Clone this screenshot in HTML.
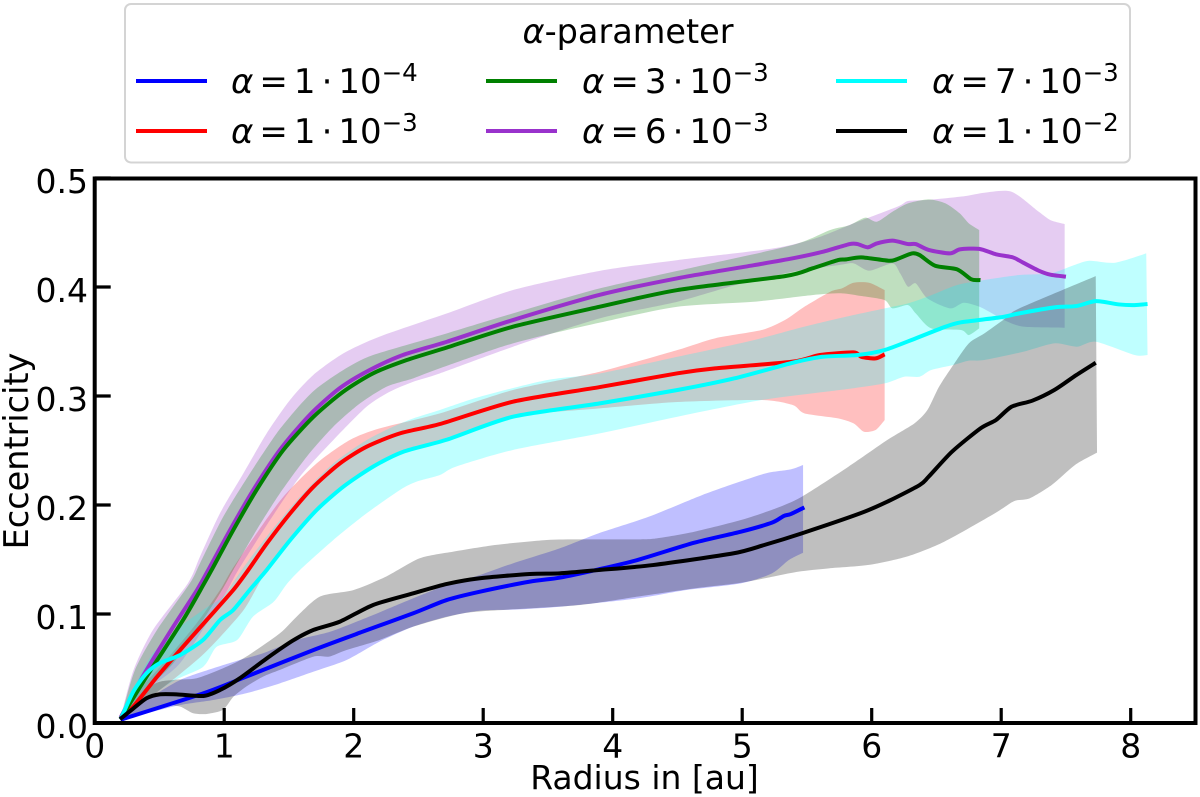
<!DOCTYPE html>
<html>
<head>
<meta charset="utf-8">
<title>Eccentricity vs radius</title>
<style>
html,body{margin:0;padding:0;background:#fff;}
svg{display:block;}
text{font-family:"DejaVu Sans","Liberation Sans",sans-serif;fill:#000;}
</style>
</head>
<body>
<svg id="chart" xmlns="http://www.w3.org/2000/svg" width="1200" height="797" viewBox="0 0 1200 797">
<rect x="125" y="4" width="1005" height="158.500" rx="6" fill="#fff" stroke="#d4d4d4" stroke-width="2"/>
<text x="628" y="43" font-size="33.500" text-anchor="middle"><tspan font-style="italic">α</tspan>-parameter</text>
<g><line x1="136" x2="207" y1="81" y2="81" stroke="#0000ff" stroke-width="4"/><text x="231" y="93" font-size="34"><tspan font-style="italic">α</tspan><tspan dx="6">=</tspan><tspan dx="6">1</tspan><tspan dx="6">·</tspan><tspan dx="6">10</tspan><tspan font-size="24.500" dy="-12">−4</tspan></text></g>
<g><line x1="136" x2="207" y1="131" y2="131" stroke="#ff0000" stroke-width="4"/><text x="231" y="143" font-size="34"><tspan font-style="italic">α</tspan><tspan dx="6">=</tspan><tspan dx="6">1</tspan><tspan dx="6">·</tspan><tspan dx="6">10</tspan><tspan font-size="24.500" dy="-12">−3</tspan></text></g>
<g><line x1="486" x2="557" y1="81" y2="81" stroke="#008000" stroke-width="4"/><text x="582" y="93" font-size="34"><tspan font-style="italic">α</tspan><tspan dx="6">=</tspan><tspan dx="6">3</tspan><tspan dx="6">·</tspan><tspan dx="6">10</tspan><tspan font-size="24.500" dy="-12">−3</tspan></text></g>
<g><line x1="486" x2="557" y1="131" y2="131" stroke="#9932cc" stroke-width="4"/><text x="582" y="143" font-size="34"><tspan font-style="italic">α</tspan><tspan dx="6">=</tspan><tspan dx="6">6</tspan><tspan dx="6">·</tspan><tspan dx="6">10</tspan><tspan font-size="24.500" dy="-12">−3</tspan></text></g>
<g><line x1="836" x2="907" y1="81" y2="81" stroke="#00ffff" stroke-width="4"/><text x="932" y="93" font-size="34"><tspan font-style="italic">α</tspan><tspan dx="6">=</tspan><tspan dx="6">7</tspan><tspan dx="6">·</tspan><tspan dx="6">10</tspan><tspan font-size="24.500" dy="-12">−3</tspan></text></g>
<g><line x1="836" x2="907" y1="131" y2="131" stroke="#000000" stroke-width="4"/><text x="932" y="143" font-size="34"><tspan font-style="italic">α</tspan><tspan dx="6">=</tspan><tspan dx="6">1</tspan><tspan dx="6">·</tspan><tspan dx="6">10</tspan><tspan font-size="24.500" dy="-12">−2</tspan></text></g>
<g id="bands"></g>
<g id="lines"></g>
<g id="axes"></g>
<text x="644.500" y="789" font-size="33" text-anchor="middle">Radius in [au]</text>
<text transform="translate(28,451) rotate(-90)" font-size="33.500" text-anchor="middle">Eccentricity</text>
</svg>
<script>
const xTickValues = [0,1,2,3,4,5,6,7,8];
const xTickLabels = ["0","1","2","3","4","5","6","7","8"];
const yTickValues = [0,0.1,0.2,0.3,0.4,0.5];
const yTickLabels = ["0.0","0.1","0.2","0.3","0.4","0.5"];

const blueMeanR = [0.2,0.84,1.17,1.69,2.07,2.46,2.72,2.975,3.36,3.59,3.89,4.19,4.63,4.99,5.23,5.32,5.375,5.48];
const blueMeanE = [0.003,0.0273,0.0425,0.067,0.0838,0.1007,0.1129,0.1205,0.1297,0.1333,0.1409,0.1495,0.1654,0.1755,0.1838,0.1899,0.1917,0.1978];
const blueUpperR = [0.2,0.4,0.66,0.916,1.12,1.3,1.56,1.82,2.15,2.46,2.72,2.975,3.23,3.59,3.89,4.28,4.69,5.02,5.2,5.375,5.47];
const blueUpperE = [0.003,0.0211,0.0395,0.0502,0.0578,0.064,0.0762,0.0838,0.0991,0.1144,0.1266,0.1358,0.1465,0.1602,0.174,0.1893,0.2091,0.2229,0.2296,0.2327,0.2367];
const blueLowerR = [0.2,0.4,0.66,0.916,1.17,1.43,1.69,1.945,2.2,2.46,2.72,2.975,3.23,3.59,4.19,4.57,4.99,5.23,5.36,5.47];
const blueLowerE = [0.003,0.0089,0.0165,0.0211,0.0273,0.0364,0.0471,0.0578,0.0747,0.0884,0.0976,0.1031,0.104,0.1067,0.1143,0.122,0.1281,0.1373,0.1495,0.1562];

const redMeanR = [0.2,0.295,0.48,0.66,0.865,1.07,1.186,1.33,1.51,1.69,1.894,2.1,2.357,2.666,3.23,3.9,4.5,4.79,5.39,5.6,5.86,5.92,6.03,6.1];
const redMeanE = [0.004,0.0147,0.0422,0.067,0.0945,0.122,0.1404,0.1648,0.1924,0.2168,0.2382,0.2535,0.2657,0.2743,0.2948,0.3082,0.3208,0.3253,0.3315,0.3376,0.34,0.336,0.3345,0.3382];
const redUpperR = [0.2,0.27,0.53,0.787,0.968,1.058,1.25,1.457,1.714,1.97,2.2,2.666,3.23,3.9,4.5,4.79,5.15,5.33,5.48,5.68,5.77,5.86,5.98,6.1];
const redUpperE = [0.004,0.021,0.0548,0.0915,0.122,0.1404,0.174,0.2076,0.2382,0.2596,0.2703,0.2841,0.3055,0.3223,0.3422,0.3529,0.3605,0.3697,0.3819,0.3957,0.3987,0.4039,0.4039,0.3972];
const redLowerR = [0.2,0.4,0.66,0.865,1.15,1.328,1.51,1.714,1.92,2.15,2.383,2.666,3.23,3.9,4.5,5.15,5.39,5.48,5.74,5.86,5.94,6.03,6.1];
const redLowerE = [0.004,0.021,0.045,0.066,0.1037,0.1404,0.1679,0.1954,0.2168,0.2352,0.2489,0.2597,0.281,0.2886,0.2945,0.2963,0.2917,0.2841,0.2795,0.2749,0.2672,0.2688,0.2779];

const greenMeanR = [0.2,0.4,0.685,0.84,0.903,1.07,1.25,1.457,1.69,1.92,2.15,2.41,2.72,3.23,3.9,4.5,5.33,5.54,5.74,5.8,5.92,6.13,6.19,6.31,6.37,6.49,6.66,6.77,6.84];
const greenMeanE = [0.004,0.0425,0.095,0.127,0.1404,0.177,0.2138,0.2505,0.281,0.304,0.3208,0.333,0.3445,0.3636,0.3819,0.3972,0.41,0.417,0.4247,0.4253,0.4272,0.4241,0.4253,0.4308,0.4293,0.4195,0.4162,0.407,0.4064];
const greenUpperR = [0.2,0.311,0.481,0.736,0.813,0.993,1.199,1.405,1.585,1.714,1.92,2.15,2.72,3.23,3.9,4.645,5.39,5.68,5.83,5.95,6.04,6.16,6.28,6.44,6.57,6.68,6.75,6.83];
const greenUpperE = [0.004,0.0486,0.0853,0.1284,0.1465,0.1893,0.229,0.2657,0.2917,0.307,0.3239,0.3376,0.3575,0.3758,0.3987,0.4186,0.4385,0.4523,0.4568,0.4636,0.4599,0.469,0.4767,0.4804,0.4767,0.4675,0.4584,0.4523];
const greenLowerR = [0.2,0.4,0.607,0.787,0.968,1.07,1.25,1.43,1.637,1.843,2.05,2.255,2.46,2.666,3.23,3.9,4.5,5.09,5.54,5.77,5.92,6.1,6.16,6.28,6.34,6.46,6.69,6.75,6.83];
const greenLowerE = [0.004,0.0303,0.0548,0.0854,0.119,0.1404,0.1771,0.2107,0.2443,0.2719,0.2933,0.3086,0.3162,0.3254,0.3483,0.3673,0.3819,0.3865,0.3926,0.3942,0.3917,0.388,0.3804,0.3834,0.3758,0.362,0.3605,0.3559,0.362];

const purpleMeanR = [0.2,0.3,0.4,0.605,0.79,0.877,1.045,1.225,1.43,1.66,1.89,2.125,2.38,2.72,3.23,3.9,4.5,5.09,5.39,5.625,5.83,5.89,5.97,6.04,6.16,6.28,6.34,6.44,6.605,6.68,6.83,6.96,7.09,7.17,7.29,7.38,7.5];
const purpleMeanE = [0.005,0.0273,0.0486,0.088,0.122,0.1404,0.177,0.2138,0.2505,0.2826,0.307,0.3239,0.3376,0.3498,0.3697,0.3928,0.408,0.42,0.4263,0.4324,0.4394,0.4394,0.4364,0.44,0.4425,0.4394,0.4394,0.434,0.4308,0.4345,0.435,0.43,0.4272,0.4223,0.415,0.4113,0.4095];
const purpleUpperR = [0.2,0.3,0.45,0.72,0.813,0.967,1.148,1.328,1.508,1.688,1.92,2.2,2.72,3.23,3.9,4.5,5.24,5.565,5.86,6.2,6.28,6.43,6.72,6.87,7.08,7.29,7.38,7.49];
const purpleUpperE = [0.005,0.0486,0.0854,0.1282,0.1526,0.1923,0.229,0.2657,0.2963,0.3193,0.3391,0.3545,0.3758,0.3972,0.4148,0.4247,0.4354,0.4446,0.4584,0.4737,0.4789,0.4798,0.4834,0.4865,0.4874,0.469,0.4614,0.4578];
const purpleLowerR = [0.2,0.4,0.66,0.99,1.109,1.354,1.585,1.843,2.1,2.28,2.46,2.666,3.23,3.9,4.5,4.95,5.39,5.75,5.86,5.98,6.16,6.22,6.28,6.34,6.43,6.605,6.71,6.83,6.93,7.02,7.17,7.49];
const purpleLowerE = [0.005,0.0303,0.055,0.115,0.1404,0.1862,0.226,0.2596,0.2902,0.304,0.3131,0.3208,0.3452,0.3712,0.3865,0.4018,0.414,0.4202,0.4217,0.415,0.4217,0.4125,0.4003,0.4033,0.3896,0.3804,0.3856,0.382,0.3758,0.3697,0.3636,0.3626];

const cyanMeanR = [0.2,0.298,0.4,0.504,0.66,0.836,0.968,1.07,1.2,1.328,1.51,1.714,1.92,2.15,2.383,2.72,3.23,3.9,4.5,4.94,5.39,5.62,5.89,6.1,6.34,6.57,6.69,6.99,7.14,7.41,7.58,7.73,7.91,8.03,8.13];
const cyanMeanE = [0.0034,0.0288,0.0456,0.055,0.0624,0.0761,0.0945,0.1037,0.1225,0.1404,0.1679,0.1954,0.2168,0.2352,0.2489,0.26,0.281,0.2932,0.3055,0.3162,0.3305,0.336,0.3376,0.3422,0.3529,0.3636,0.3676,0.3721,0.3758,0.3813,0.3825,0.387,0.384,0.3834,0.3844];
const cyanUpperR = [0.2,0.32,0.45,0.66,0.865,0.99,1.135,1.328,1.585,1.843,2.1,2.306,2.46,2.666,2.975,3.49,3.9,4.5,5.09,5.48,5.8,6.1,6.28,6.43,6.66,6.87,7.14,7.38,7.56,7.68,7.88,8.12];
const cyanUpperE = [0.0034,0.0364,0.064,0.0884,0.106,0.116,0.1404,0.171,0.2076,0.2382,0.2596,0.2719,0.2795,0.2872,0.2993,0.3146,0.3207,0.336,0.3513,0.3636,0.3727,0.3804,0.385,0.391,0.4018,0.4064,0.411,0.4125,0.42,0.4241,0.4223,0.4308];
const cyanLowerR = [0.2,0.58,0.836,0.94,1.1,1.22,1.38,1.48,1.585,1.843,2.1,2.357,2.486,2.666,2.79,3.23,3.9,4.5,5.15,5.8,6.1,6.25,6.37,6.46,6.63,6.75,6.87,7.17,7.41,7.585,7.73,8.03,8.13];
const cyanLowerE = [0.0034,0.0367,0.0514,0.0697,0.0761,0.0973,0.111,0.127,0.1404,0.1679,0.1924,0.2138,0.2214,0.2275,0.2352,0.2505,0.2657,0.281,0.2963,0.3062,0.3116,0.3177,0.3177,0.3238,0.3284,0.3324,0.333,0.3406,0.3483,0.3452,0.3498,0.3376,0.3376];

const blackMeanR = [0.195,0.3,0.4,0.5,0.633,0.84,0.968,1.12,1.33,1.53,1.69,1.894,2.15,2.46,2.72,2.975,3.36,3.59,3.89,4.31,4.93,5.17,5.46,5.91,6.12,6.37,6.44,6.62,6.84,6.96,7.08,7.24,7.41,7.58,7.73];
const blackMeanE = [0.0034,0.0135,0.0227,0.0263,0.0263,0.0248,0.0303,0.041,0.0594,0.0756,0.0854,0.093,0.1083,0.119,0.1276,0.1328,0.1367,0.1373,0.1403,0.1449,0.1556,0.1633,0.174,0.1923,0.203,0.2183,0.226,0.2489,0.2703,0.278,0.2902,0.2957,0.3055,0.3192,0.3305];
const blackUpperR = [0.2,0.45,0.607,0.787,1.02,1.17,1.43,1.56,1.74,2,2.25,2.51,2.77,3.1,3.49,3.75,4.19,4.34,4.63,4.99,5.26,5.46,5.82,6.12,6.33,6.43,6.52,6.63,6.75,6.87,7.05,7.14,7.73];
const blackUpperE = [0.003,0.0349,0.0395,0.041,0.0517,0.0609,0.0823,0.0976,0.116,0.122,0.1343,0.1511,0.1572,0.1634,0.1679,0.1685,0.1685,0.1694,0.1755,0.1862,0.1969,0.2076,0.2351,0.2596,0.2749,0.2871,0.3085,0.3284,0.3483,0.3574,0.3727,0.3804,0.41];
const blackLowerR = [0.2,0.4,0.53,0.66,0.76,0.865,0.99,1.07,1.17,1.3,1.43,1.69,1.81,1.945,2.2,2.46,2.85,3.23,3.75,4.19,4.63,4.96,5.17,5.43,5.67,5.97,6.27,6.56,6.95,7.1,7.22,7.39,7.57,7.74];
const blackLowerE = [0.003,0.0116,0.0165,0.015,0.0089,0.0083,0.012,0.024,0.0334,0.0425,0.0487,0.0609,0.0609,0.067,0.0762,0.0884,0.1007,0.1043,0.1083,0.1159,0.1235,0.1281,0.1327,0.1388,0.1419,0.1449,0.1526,0.1663,0.1923,0.2036,0.2061,0.2183,0.2367,0.248];

const X0 = 94.7, PX_PER_AU = 129.5, Y0 = 723, PX_PER_E = 1090;
function xScale(r){ return X0 + r * PX_PER_AU; }
function yScale(e){ return Y0 - e * PX_PER_E; }
const NS = "http://www.w3.org/2000/svg";
function toPoints(rs, es){ return rs.map((r,i)=>[xScale(r), yScale(es[i])]); }
function smoothSegments(p){
  let d = "";
  for(let i=0;i<p.length-1;i++){
    const a=p[Math.max(0,i-1)], b=p[i], c=p[i+1], e=p[Math.min(p.length-1,i+2)];
    const c1x=b[0]+(c[0]-a[0])/8, c1y=b[1]+(c[1]-a[1])/8;
    const c2x=c[0]-(e[0]-b[0])/8, c2y=c[1]-(e[1]-b[1])/8;
    d += " C"+c1x.toFixed(2)+" "+c1y.toFixed(2)+" "+c2x.toFixed(2)+" "+c2y.toFixed(2)+" "+c[0].toFixed(2)+" "+c[1].toFixed(2);
  }
  return d;
}
function linePath(rs, es){
  const p = toPoints(rs, es);
  return "M"+p[0][0].toFixed(2)+" "+p[0][1].toFixed(2)+smoothSegments(p);
}
function bandPath(ur, ue, lr, le){
  const u = toPoints(ur, ue);
  const l = toPoints(lr, le).reverse();
  return "M"+u[0][0].toFixed(2)+" "+u[0][1].toFixed(2)+smoothSegments(u)+
         " L"+l[0][0].toFixed(2)+" "+l[0][1].toFixed(2)+smoothSegments(l)+" Z";
}
const bandsLayer = document.getElementById("bands");
const linesLayer = document.getElementById("lines");
function drawSeries(key, color, mr, me, ur, ue, lr, le){
  const band = document.createElementNS(NS,"path");
  band.setAttribute("d", bandPath(ur, ue, lr, le));
  band.setAttribute("fill", color);
  band.setAttribute("fill-opacity", "0.25");
  
  
  bandsLayer.appendChild(band);
  const line = document.createElementNS(NS,"path");
  line.setAttribute("d", linePath(mr, me));
  line.setAttribute("fill", "none");
  line.setAttribute("stroke", color);
  line.setAttribute("stroke-width", "4");
  line.setAttribute("stroke-linejoin", "round");
  
  
  linesLayer.appendChild(line);
}
drawSeries("alpha-1e-4","#0000ff",blueMeanR,blueMeanE,blueUpperR,blueUpperE,blueLowerR,blueLowerE);
drawSeries("alpha-1e-3","#ff0000",redMeanR,redMeanE,redUpperR,redUpperE,redLowerR,redLowerE);
drawSeries("alpha-6e-3","#9932cc",purpleMeanR,purpleMeanE,purpleUpperR,purpleUpperE,purpleLowerR,purpleLowerE);
drawSeries("alpha-3e-3","#008000",greenMeanR,greenMeanE,greenUpperR,greenUpperE,greenLowerR,greenLowerE);
drawSeries("alpha-7e-3","#00ffff",cyanMeanR,cyanMeanE,cyanUpperR,cyanUpperE,cyanLowerR,cyanLowerE);
drawSeries("alpha-1e-2","#000000",blackMeanR,blackMeanE,blackUpperR,blackUpperE,blackLowerR,blackLowerE);

const axes = document.getElementById("axes");
const frame = document.createElementNS(NS,"rect");
frame.setAttribute("x", X0);
frame.setAttribute("y", 178.5);
frame.setAttribute("width", 1100.8);
frame.setAttribute("height", Y0-178.5);
frame.setAttribute("fill", "none");
frame.setAttribute("stroke", "#000");
frame.setAttribute("stroke-width", "4");


axes.appendChild(frame);
xTickValues.forEach((v,i)=>{
  const t = document.createElementNS(NS,"line");
  t.setAttribute("x1", xScale(v));
  t.setAttribute("x2", xScale(v));
  t.setAttribute("y1", Y0);
  t.setAttribute("y2", Y0-15);
  t.setAttribute("stroke", "#000");
  t.setAttribute("stroke-width", "3.2");
  
  
  axes.appendChild(t);
  const l = document.createElementNS(NS,"text");
  l.setAttribute("x", xScale(v));
  l.setAttribute("y", 757.5);
  l.setAttribute("font-size", "33");
  l.setAttribute("text-anchor", "middle");
  l.textContent = xTickLabels[i];
  
  
  axes.appendChild(l);
});
yTickValues.forEach((v,i)=>{
  const t = document.createElementNS(NS,"line");
  t.setAttribute("x1", X0);
  t.setAttribute("x2", X0+16);
  t.setAttribute("y1", yScale(v));
  t.setAttribute("y2", yScale(v));
  t.setAttribute("stroke", "#000");
  t.setAttribute("stroke-width", "3.2");
  
  
  axes.appendChild(t);
  const l = document.createElementNS(NS,"text");
  l.setAttribute("x", 88);
  l.setAttribute("y", yScale(v)+15);
  l.setAttribute("font-size", "33");
  l.setAttribute("text-anchor", "end");
  l.textContent = yTickLabels[i];
  
  
  axes.appendChild(l);
});
</script>
</body>
</html>
